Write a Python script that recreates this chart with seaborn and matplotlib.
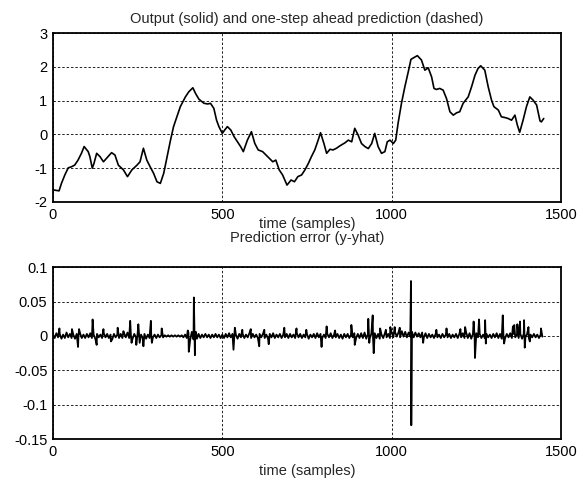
import numpy as np
import pandas as pd
import matplotlib
matplotlib.use("Agg")
import matplotlib.pyplot as plt
import seaborn as sns

# output signal (sample, value)
out_samples = [0, 5, 18, 25, 35, 45, 54, 64, 74, 84, 92, 104, 109, 116, 121, 129, 139, 149, 158, 173,
               183, 193, 208, 220, 233, 248, 257, 267, 277, 287, 297, 307, 317, 327, 337, 347, 356, 366, 376, 391,
               401, 413, 421, 431, 446, 457, 465, 475, 483, 490, 500, 507, 515, 525, 535, 545, 554, 562, 574, 586,
               596, 606, 619, 629, 639, 649, 658, 668, 678, 691, 703, 713, 723, 734, 744, 754, 763, 773, 783, 790,
               800, 808, 818, 827, 837, 847, 862, 872, 882, 891, 901, 911, 921, 931, 941, 950, 960, 970, 980, 987,
               995, 1005, 1012, 1019, 1029, 1039, 1049, 1057, 1067, 1076, 1088, 1098, 1108, 1118, 1125, 1132, 1142, 1152, 1162, 1172,
               1182, 1192, 1201, 1211, 1226, 1236, 1246, 1255, 1263, 1275, 1285, 1295, 1302, 1315, 1324, 1334, 1344, 1354, 1364, 1371,
               1378, 1388, 1398, 1408, 1418, 1428, 1438, 1442, 1449]
out_values = [-1.63, -1.65, -1.67, -1.45, -1.20, -0.99, -0.96, -0.91, -0.76, -0.56, -0.36, -0.51, -0.66, -1.00, -0.86, -0.56, -0.66, -0.81, -0.71, -0.54,
              -0.61, -0.91, -1.05, -1.25, -1.05, -0.91, -0.81, -0.41, -0.76, -0.96, -1.15, -1.40, -1.45, -1.15, -0.66, -0.17, 0.23, 0.52, 0.82, 1.11,
              1.26, 1.38, 1.21, 1.04, 0.92, 0.90, 0.92, 0.77, 0.42, 0.23, 0.03, 0.13, 0.23, 0.13, -0.07, -0.22, -0.36, -0.51, -0.17, 0.08,
              -0.27, -0.46, -0.51, -0.61, -0.71, -0.81, -0.76, -1.05, -1.20, -1.50, -1.35, -1.40, -1.25, -1.20, -1.05, -0.86, -0.66, -0.46, -0.17, 0.05,
              -0.27, -0.56, -0.44, -0.46, -0.41, -0.34, -0.25, -0.17, -0.22, 0.18, -0.02, -0.27, -0.36, -0.42, -0.27, 0.03, -0.36, -0.56, -0.51, -0.22,
              -0.17, -0.27, -0.17, 0.33, 0.92, 1.41, 1.85, 2.22, 2.28, 2.33, 2.20, 1.90, 1.97, 1.70, 1.36, 1.33, 1.36, 1.31, 1.06, 0.67,
              0.57, 0.64, 0.67, 0.92, 1.11, 1.41, 1.75, 1.95, 2.03, 1.90, 1.41, 1.01, 0.82, 0.72, 0.52, 0.50, 0.47, 0.42, 0.57, 0.28,
              0.06, 0.42, 0.82, 1.11, 1.01, 0.87, 0.40, 0.37, 0.47]

# prediction error: low-level band read every 5 samples (0..1445)
band_values = [0.002, -0.003, 0.004, -0.002, 0.003, -0.004, 0.002, -0.003, 0.005, -0.002, 0.003, -0.003, 0.002, -0.004, 0.003, -0.002, 0.004, -0.003, 0.002, -0.003,
               0.003, -0.002, 0.004, -0.003, 0.002, -0.004, 0.003, -0.002, 0.002, -0.003, 0.004, -0.002, 0.003, -0.003, 0.002, -0.005, 0.003, -0.002, 0.002, -0.003,
               0.003, -0.003, 0.004, -0.002, 0.005, -0.003, 0.002, -0.004, 0.003, -0.002, 0.004, -0.003, 0.002, -0.003, 0.003, -0.004, 0.002, -0.003, 0.003, -0.002,
               0.002, -0.003, 0.002, -0.002, 0.001, -0.002, 0.001, -0.001, 0.001, -0.001, 0.001, -0.001, 0.001, -0.001, 0.001, -0.001, 0.001, -0.002, 0.002, -0.003,
               0.005, -0.006, 0.006, -0.005, 0.004, -0.004, 0.003, -0.003, 0.002, -0.002, 0.003, -0.002, 0.002, -0.003, 0.002, -0.002, 0.003, -0.002, 0.002, -0.003,
               0.002, -0.003, 0.003, -0.002, 0.004, -0.002, 0.003, -0.003, 0.002, -0.004, 0.003, -0.002, 0.003, -0.003, 0.002, -0.002, 0.004, -0.003, 0.003, -0.002,
               0.002, -0.003, 0.003, -0.002, 0.003, -0.003, 0.002, -0.004, 0.003, -0.002, 0.004, -0.003, 0.002, -0.002, 0.003, -0.003, 0.002, -0.002, 0.003, -0.003,
               0.003, -0.002, 0.002, -0.003, 0.004, -0.002, 0.003, -0.003, 0.002, -0.002, 0.003, -0.004, 0.002, -0.002, 0.003, -0.003, 0.004, -0.002, 0.003, -0.003,
               0.002, -0.003, 0.003, -0.002, 0.004, -0.003, 0.002, -0.002, 0.003, -0.003, 0.002, -0.004, 0.003, -0.002, 0.003, -0.003, 0.002, -0.002, 0.004, -0.003,
               0.003, -0.003, 0.004, -0.003, 0.005, -0.004, 0.003, -0.004, 0.003, -0.002, 0.004, -0.003, 0.003, -0.004, 0.002, -0.003, 0.004, -0.002, 0.003, -0.003,
               0.005, -0.002, 0.006, -0.001, 0.005, -0.002, 0.007, -0.001, 0.006, -0.002, 0.005, -0.001, 0.006, -0.002, 0.005, -0.001, 0.004, -0.002, 0.005, -0.002,
               0.004, -0.003, 0.003, -0.002, 0.002, -0.003, 0.003, -0.002, 0.002, -0.003, 0.003, -0.002, 0.002, -0.002, 0.003, -0.003, 0.002, -0.002, 0.003, -0.003,
               0.003, -0.002, 0.004, -0.003, 0.005, -0.003, 0.004, -0.004, 0.003, -0.003, 0.004, -0.002, 0.003, -0.003, 0.002, -0.003, 0.003, -0.002, 0.002, -0.003,
               0.003, -0.002, 0.004, -0.003, 0.003, -0.004, 0.002, -0.003, 0.003, -0.002, 0.004, -0.003, 0.003, -0.002, 0.002, -0.003, 0.003, -0.004, 0.003, -0.002,
               0.003, -0.003, 0.002, -0.002, 0.003, -0.002, 0.002, -0.003, 0.002, -0.001]
band_step = 5

# the larger spikes of the error
spike_samples = [19, 56, 74, 77, 117, 129, 149, 171, 191, 208, 228, 232, 246, 252, 256, 267, 289, 292, 321,
                 398, 401, 416, 419, 422, 533, 537, 559, 584, 609, 624, 637, 683, 719, 748, 793, 808, 833,
                 881, 891, 931, 934, 944, 947, 966, 983, 996, 1009, 1024, 1057, 1058, 1093, 1132, 1162, 1203,
                 1217, 1242, 1246, 1258, 1276, 1278, 1328, 1332, 1358, 1362, 1371, 1379, 1391, 1393, 1404, 1408, 1441]
spike_values = [0.011, 0.010, -0.016, 0.010, 0.024, -0.013, 0.010, -0.008, 0.012, 0.007, 0.022, -0.010, -0.013, 0.017, -0.010, -0.015, 0.022, -0.010, 0.011,
                0.008, -0.023, 0.056, -0.028, 0.006, -0.020, 0.012, 0.009, 0.010, -0.015, 0.009, -0.012, 0.012, 0.011, 0.009, -0.016, 0.014, 0.008,
                0.016, -0.013, 0.025, -0.010, 0.030, -0.025, 0.011, 0.009, 0.013, 0.013, 0.012, 0.080, -0.130, -0.010, 0.009, 0.011, 0.010,
                0.013, 0.021, -0.032, 0.024, 0.023, -0.011, 0.030, -0.011, 0.014, 0.016, 0.017, 0.021, 0.023, -0.017, 0.013, -0.008, 0.011]

top_yticks = [-2, -1, 0, 1, 2, 3]
top_ylabels = ["-2", "-1", "0", "1", "2", "3"]
bot_yticks = [-0.15, -0.1, -0.05, 0, 0.05, 0.1]
bot_ylabels = ["-0.15", "-0.1", "-0.05", "0", "0.05", "0.1"]
xticks = [0, 500, 1000, 1500]

sns.set_style("white")
plt.rcParams['font.family'] = ['Liberation Sans', 'DejaVu Sans']
plt.rcParams['axes.unicode_minus'] = False

df_out = pd.DataFrame({"sample": out_samples, "y": out_values})
df_band = pd.DataFrame({"sample": np.arange(len(band_values)) * band_step, "y": band_values})
df_spk = pd.DataFrame({"sample": spike_samples, "y": spike_values})
df_err = pd.concat([df_band, df_spk]).sort_values("sample").reset_index(drop=True)

fig = plt.figure(figsize=(5.79, 4.79), dpi=100)
ax1 = fig.add_axes([0.0915, 0.5783, 0.8774, 0.3528])
ax2 = fig.add_axes([0.0915, 0.0835, 0.8774, 0.3585])

sns.lineplot(data=df_out, x="sample", y="y", ax=ax1, color="black", lw=1.2, estimator=None, sort=False)
sns.lineplot(data=df_err, x="sample", y="y", ax=ax2, color="black", lw=1.3, estimator=None, sort=False)

fs = 10.5
ax1.set_ylim(-2, 3)
ax2.set_ylim(-0.15, 0.1)
for ax, yt, yl in [(ax1, top_yticks, top_ylabels), (ax2, bot_yticks, bot_ylabels)]:
    ax.set_xlim(0, 1500)
    ax.set_xticks(xticks)
    ax.set_xticklabels([str(t) for t in xticks])
    ax.set_yticks(yt)
    ax.set_yticklabels(yl)
    ax.grid(True, color="#222222", lw=0.7, linestyle=(0, (2.5, 2)))
    ax.tick_params(direction="in", length=3, width=0.8, labelsize=fs, pad=4, colors="black")
    for s in ax.spines.values():
        s.set_visible(True)
        s.set_color("black")
        s.set_linewidth(1.3)
    ax.set_ylabel("")

ax1.set_xlabel("time (samples)", fontsize=fs, labelpad=-3)
ax2.set_xlabel("time (samples)", fontsize=fs, labelpad=4)
ax1.set_title("Output (solid) and one-step ahead prediction (dashed)", fontsize=fs, pad=7)
ax2.set_title("Prediction error (y-yhat)", fontsize=fs, pad=18)

plt.savefig("out.png", dpi=100)
